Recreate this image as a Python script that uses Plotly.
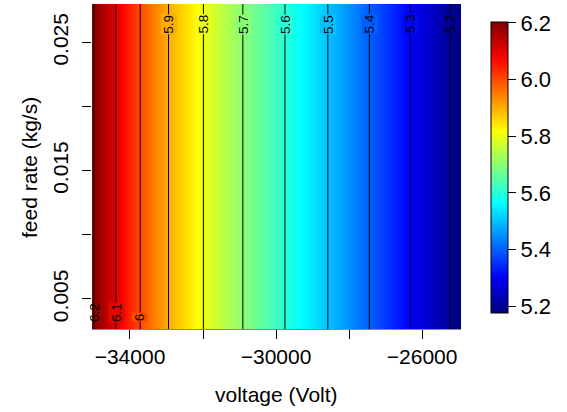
import numpy as np
import plotly.graph_objects as go

# ---- data ----
voltage = [-35000, -34500, -34000, -33500, -33000, -32500, -32000, -31500, -31000,
           -30500, -30000, -29500, -29000, -28500, -28000, -27500, -27000, -26500,
           -26000, -25500, -25000]
output = [6.202, 6.118, 6.039, 5.969, 5.906, 5.853, 5.801, 5.754, 5.708, 5.664,
          5.621, 5.578, 5.536, 5.493, 5.449, 5.405, 5.360, 5.316, 5.270, 5.225, 5.179]
feed_rate = [0.0020, 0.0290]
levels = [5.2, 5.3, 5.4, 5.5, 5.6, 5.7, 5.8, 5.9, 6.0, 6.1, 6.2]
level_labels = ["5.2", "5.3", "5.4", "5.5", "5.6", "5.7", "5.8", "5.9", "6", "6.1", "6.2"]
x_ticks = [-34000, -32000, -30000, -28000, -26000]
x_ticktext = ["\u221234000", "", "\u221230000", "", "\u221226000"]
y_ticks = [0.005, 0.010, 0.015, 0.020, 0.025]
y_ticktext = ["0.005", "", "0.015", "", "0.025"]
cb_ticks = [5.2, 5.4, 5.6, 5.8, 6.0, 6.2]
cb_ticktext = ["5.2", "5.4", "5.6", "5.8", "6.0", "6.2"]

ZMIN, ZMAX = 5.176, 6.203
X_RANGE = [-35040, -24935]
jet_hex = ["#00007F", "#0000FF", "#007FFF", "#00FFFF", "#7FFF7F",
           "#FFFF00", "#FF7F00", "#FF0000", "#7F0000"]
colorscale = [[i / (len(jet_hex) - 1), c] for i, c in enumerate(jet_hex)]


def jet_rgb(v):
    f = min(max((v - ZMIN) / (ZMAX - ZMIN), 0), 1)
    pos = f * (len(jet_hex) - 1)
    i = min(int(pos), len(jet_hex) - 2)
    t = pos - i
    a = [int(jet_hex[i][k:k + 2], 16) for k in (1, 3, 5)]
    b = [int(jet_hex[i + 1][k:k + 2], 16) for k in (1, 3, 5)]
    return [a[j] + (b[j] - a[j]) * t for j in range(3)]


def local_color(xv):
    # colour as the smoothed heatmap paints it: RGB blend of neighbouring cells
    i = int(np.searchsorted(voltage, xv)) - 1
    i = min(max(i, 0), len(voltage) - 2)
    t = (xv - voltage[i]) / (voltage[i + 1] - voltage[i])
    a, b = jet_rgb(output[i]), jet_rgb(output[i + 1])
    c = [round(a[j] + (b[j] - a[j]) * t) for j in range(3)]
    return "rgb(%d,%d,%d)" % tuple(c)


Z = [list(output) for _ in feed_rate]

FONT = "Liberation Sans, Arial, Helvetica, sans-serif"
TXT = dict(family=FONT, size=21, color="black")

fig = go.Figure()
fig.add_trace(go.Heatmap(
    x=voltage, y=feed_rate, z=Z, zsmooth="best",
    colorscale=colorscale, zmin=ZMIN, zmax=ZMAX,
    colorbar=dict(
        thickness=17, lenmode="pixels", len=291, x=1.0813, xanchor="left", xpad=0,
        y=0.497, yanchor="middle", ypad=0,
        outlinewidth=1, outlinecolor="black",
        ticks="outside", ticklen=8, tickcolor="black",
        tickvals=cb_ticks, ticktext=cb_ticktext,
        tickfont=dict(family=FONT, size=22, color="black"),
    ),
    hoverinfo="skip",
))
fig.add_trace(go.Contour(
    x=voltage, y=feed_rate, z=Z,
    contours=dict(start=levels[0], end=levels[-1] + 1e-6, size=0.1, coloring="none"),
    line=dict(color="black", width=1), showscale=False, hoverinfo="skip",
))

rev_out = output[::-1]
rev_volt = voltage[::-1]
span = X_RANGE[1] - X_RANGE[0]
for lv, txt in zip(levels, level_labels):
    xc = float(np.interp(lv, rev_out, rev_volt))
    if lv < 5.95:
        yp = 0.938
    else:
        yp = 0.052 if txt != "6" else 0.037
    near_edge = (xc - X_RANGE[0]) / span < 0.02
    fig.add_annotation(
        x=xc, y=yp, xref="x", yref="paper", text=txt, showarrow=False,
        textangle=-90, xanchor="center", yanchor="middle",
        bgcolor="rgba(0,0,0,0)" if near_edge else local_color(xc), borderpad=0,
        font=dict(family=FONT, size=13.5, color="black"),
    )

fig.add_annotation(x=0.5, y=-0.203, xref="paper", yref="paper", text="voltage (Volt)",
                   showarrow=False, xanchor="center", yanchor="middle", font=TXT)
fig.add_annotation(x=-0.171, y=0.498, xref="paper", yref="paper", text="feed rate (kg/s)",
                   showarrow=False, xanchor="center", yanchor="middle", textangle=-90,
                   font=TXT)

fig.update_layout(
    width=567, height=412,
    margin=dict(l=92, r=106, t=4, b=83, autoexpand=False),
    paper_bgcolor="white", plot_bgcolor="white",
    font=TXT,
    showlegend=False,
    xaxis=dict(
        range=X_RANGE, tickvals=x_ticks, ticktext=x_ticktext,
        ticks="outside", ticklen=9, tickcolor="black", showgrid=False, zeroline=False,
        showline=True, linecolor="#888888", linewidth=1, automargin=False,
        tickfont=TXT,
    ),
    yaxis=dict(
        range=[0.00266, 0.028], tickvals=y_ticks, ticktext=y_ticktext,
        ticks="outside", ticklen=9, tickcolor="black", showgrid=False, zeroline=False,
        tickangle=-90, automargin=False, ticklabelstandoff=6,
        tickfont=TXT,
    ),
)

fig.write_html("out.html", config={"displayModeBar": False},
               post_script="document.body.style.margin='0';document.body.style.overflow='hidden';")
